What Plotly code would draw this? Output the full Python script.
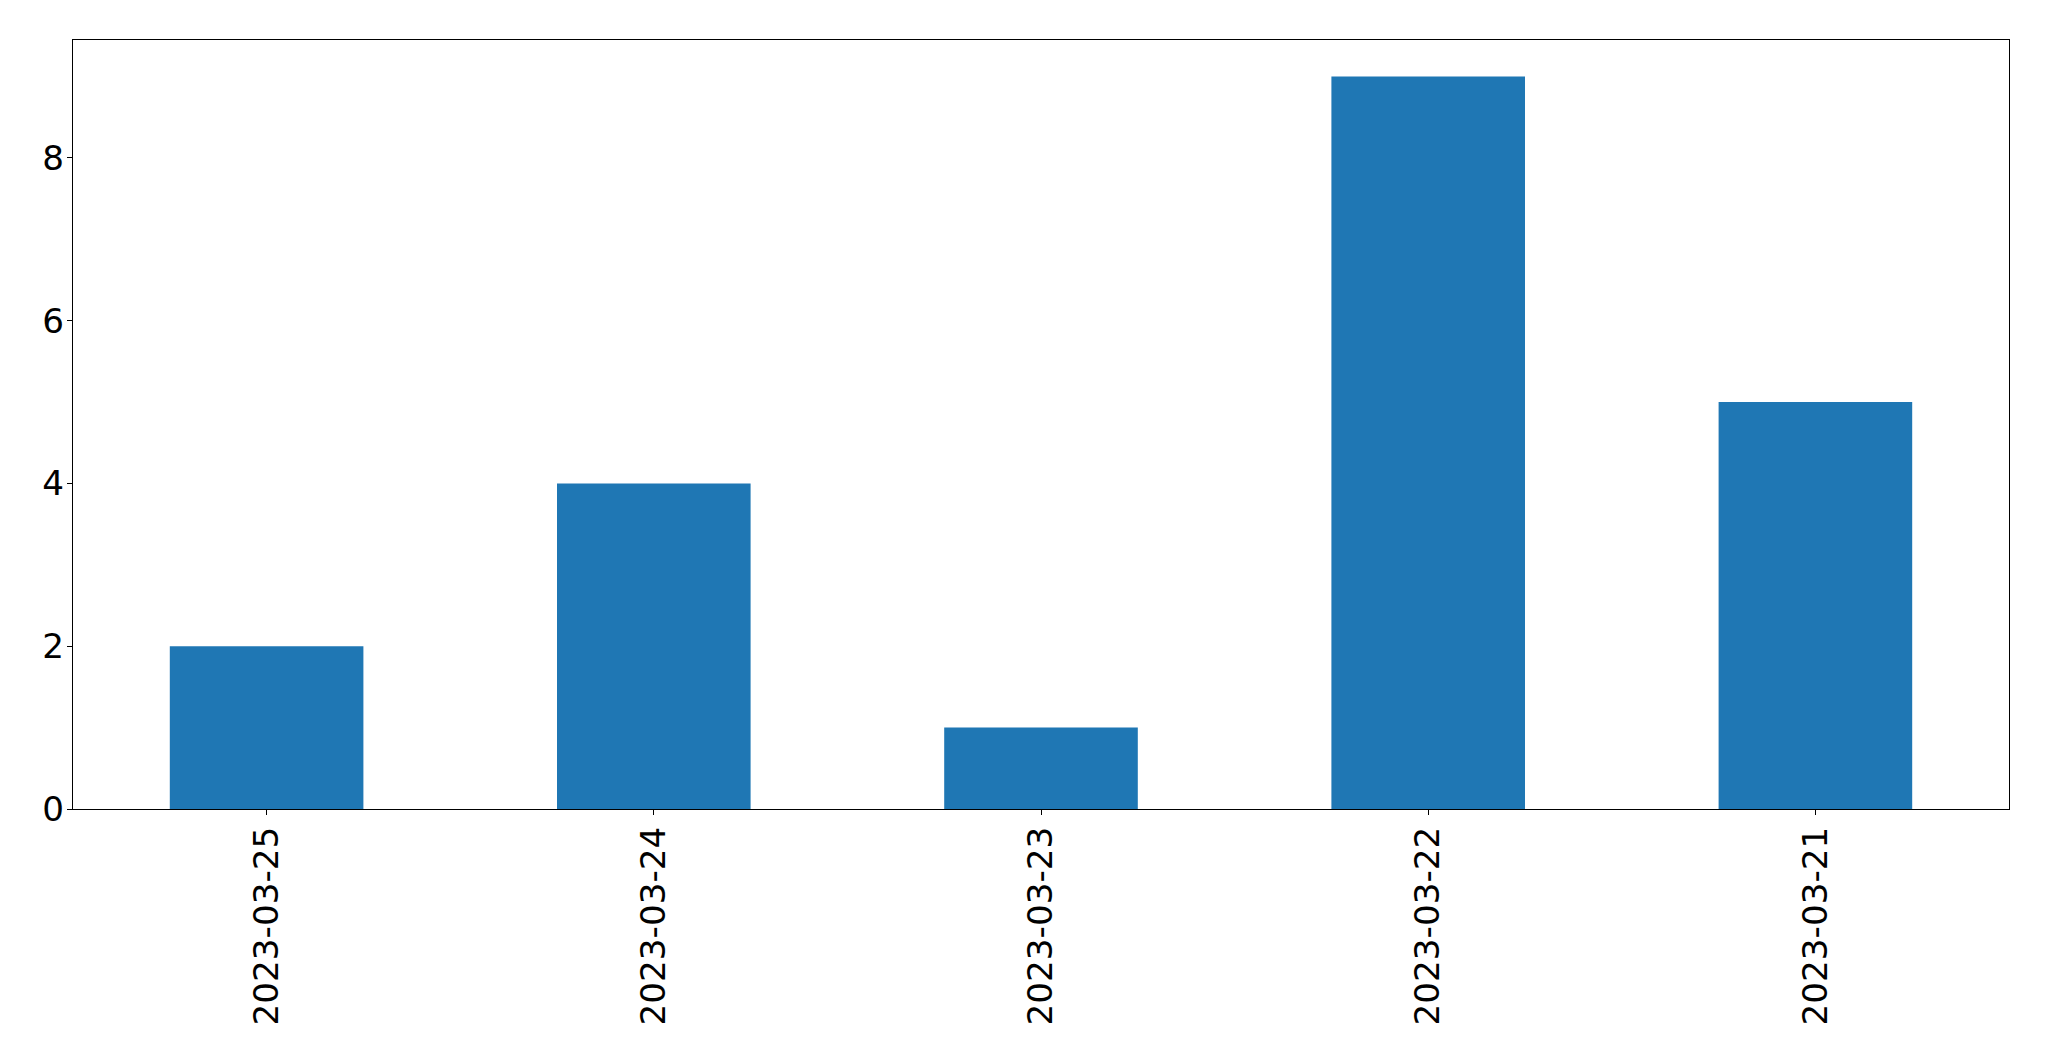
import plotly.graph_objects as go

dates = ["2023-03-25", "2023-03-24", "2023-03-23", "2023-03-22", "2023-03-21"]
counts = [2, 4, 1, 9, 5]
y_ticks = [0, 2, 4, 6, 8]

fig = go.Figure(go.Bar(x=dates, y=counts, marker_color="#1f77b4", marker_line_width=0))

# page body has an 8px margin, so the figure is offset by 8px
fig.update_layout(
    width=2033, height=1045,
    margin=dict(l=64.5, r=32, t=31.5, b=244),
    paper_bgcolor="white", plot_bgcolor="white",
    bargap=0.5,
    font=dict(family="DejaVu Sans", size=34.2, color="black"),
    showlegend=False,
)
fig.update_xaxes(
    type="category", range=[-0.5, 4.5], automargin=False,
    showline=True, linecolor="black", linewidth=1.1, mirror=True,
    ticks="outside", ticklen=5, tickwidth=1.1, tickcolor="black",
    tickangle=-90, ticklabelstandoff=-2,
    showgrid=False, zeroline=False,
)
fig.update_yaxes(
    range=[0, 9.45], tickvals=y_ticks, automargin=False,
    showline=True, linecolor="black", linewidth=1.1, mirror=True,
    ticks="outside", ticklen=5, tickwidth=1.1, tickcolor="black",
    ticklabelstandoff=-4,
    showgrid=False, zeroline=False,
)
fig.write_html("out.html")
